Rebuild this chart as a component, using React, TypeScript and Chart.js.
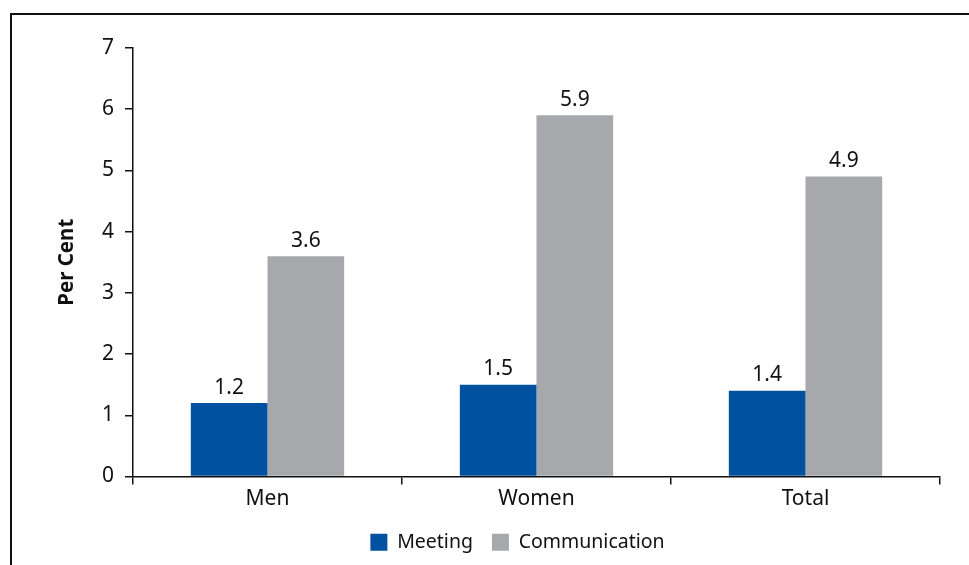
import React, { useEffect, useRef } from "react";
import { Chart, registerables } from "chart.js";

Chart.register(...registerables);

const categories = ["Men", "Women", "Total"];
const meeting = [1.2, 1.5, 1.4];
const communication = [3.6, 5.9, 4.9];
const yTicks = [0, 1, 2, 3, 4, 5, 6, 7];

const FONT = "'Noto Sans', sans-serif";
const BLUE = "#0051a0";
const GREY = "#a7a8ab";

// Outer frame: a top and a left rule enclosing the figure
const framePlugin = {
  id: "frame",
  afterDraw(chart: Chart) {
    const ctx = chart.ctx;
    ctx.save();
    ctx.strokeStyle = "#111";
    ctx.lineWidth = 2;
    ctx.beginPath();
    ctx.moveTo(11, chart.height);
    ctx.lineTo(11, 14);
    ctx.lineTo(chart.width, 14);
    ctx.stroke();
    ctx.restore();
  },
};

// Value labels above each bar
const valueLabels = {
  id: "valueLabels",
  afterDatasetsDraw(chart: Chart) {
    const ctx = chart.ctx;
    ctx.save();
    ctx.font = `21px ${FONT}`;
    ctx.fillStyle = "#111";
    ctx.textAlign = "center";
    ctx.textBaseline = "bottom";
    chart.data.datasets.forEach((ds, di) => {
      const meta = chart.getDatasetMeta(di);
      meta.data.forEach((bar: any, i) => {
        const v = ds.data[i] as number;
        ctx.fillText(v.toFixed(1), bar.x, bar.y - 5);
      });
    });
    ctx.restore();
  },
};

export default function App() {
  const ref = useRef<HTMLCanvasElement>(null);

  useEffect(() => {
    if (!ref.current) return;
    const chart = new Chart(ref.current, {
      type: "bar",
      data: {
        labels: categories,
        datasets: [
          { label: "Meeting", data: meeting, backgroundColor: BLUE, yAxisID: "y" },
          { label: "Communication", data: communication, backgroundColor: GREY, yAxisID: "y" },
        ],
      },
      options: {
        animation: false,
        responsive: false,
        layout: { padding: { left: 11, right: 0, top: 48, bottom: 3 } },
        datasets: { bar: { barPercentage: 1, categoryPercentage: 0.57 } },
        plugins: {
          legend: {
            position: "bottom",
            labels: {
              boxWidth: 17,
              boxHeight: 17,
              padding: 19,
              color: "#111",
              font: { family: FONT, size: 19.5 },
            },
          },
          tooltip: { enabled: false },
        },
        scales: {
          x: {
            offset: true,
            grid: {
              offset: true,
              drawOnChartArea: false,
              drawTicks: true,
              tickLength: 8,
              color: "#111",
              lineWidth: 1.5,
            },
            border: { display: true, color: "#111", width: 1.5 },
            ticks: { color: "#111", padding: 2, font: { family: FONT, size: 21 } },
            afterFit(scale: any) {
              scale.height = 37;
            },
          },
          y: {
            position: "left",
            min: 0,
            max: 7,
            afterBuildTicks(scale: any) {
              scale.ticks = yTicks.map((v) => ({ value: v }));
            },
            grid: {
              drawOnChartArea: false,
              drawTicks: true,
              tickLength: 8,
              color: "#111",
              lineWidth: 1.5,
            },
            border: { display: true, color: "#111", width: 1.5 },
            ticks: { color: "#111", padding: 11, font: { family: FONT, size: 21 } },
            title: {
              display: true,
              text: "Per Cent",
              color: "#111",
              padding: { top: 44, bottom: 0 },
              font: { family: FONT, size: 20.5, weight: "bold" },
            },
            afterFit(scale: any) {
              scale.width = 122;
            },
          },
          // empty right-hand axis that reserves space so the plot ends where the frame continues
          yr: {
            position: "right",
            display: true,
            min: 0,
            max: 7,
            grid: { display: false },
            border: { display: false },
            ticks: { display: false },
            afterFit(scale: any) {
              scale.width = 84;
            },
          },
        },
      },
      plugins: [framePlugin, valueLabels],
    });
    return () => chart.destroy();
  }, []);

  return (
    <div
      style={{
        position: "absolute",
        left: 0,
        top: 0,
        width: 969,
        height: 565,
        overflow: "hidden",
        background: "#fff",
      }}
    >
      <canvas ref={ref} width={1024} height={565} style={{ display: "block" }} />
    </div>
  );
}
